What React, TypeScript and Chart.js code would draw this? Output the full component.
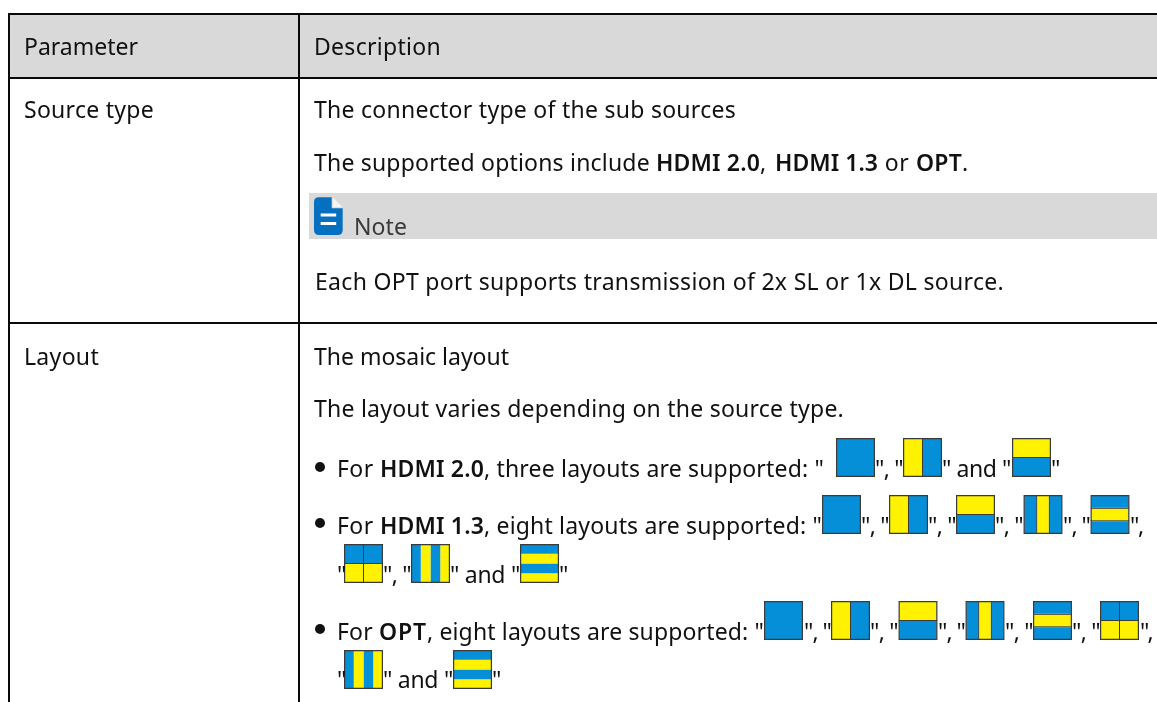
import React, { useEffect, useRef } from "react";
import { Chart, registerables } from "chart.js";

Chart.register(...registerables);

const FONT = '"Noto Sans"';
const BLUE = "#058fd8";
const YELLOW = "#fff200";
const FRAME = "#3b3b3b";
const INK = "#111111";

const parameterCells = ["Parameter", "Source type", "Layout"];
const descriptionCells = [
  "Description",
  "The connector type of the sub sources",
  "The mosaic layout",
  "The layout varies depending on the source type.",
  "Each OPT port supports transmission of 2x SL or 1x DL source.",
];
const noteLabel = "Note";
const optionRuns = ["The supported options include ", "HDMI 2.0", ", ", "HDMI 1.3", " or ", "OPT", "."];
const bullet20 = ["For ", "HDMI 2.0", ', three layouts are supported: "', '", "', '" and "', '"'];
const bullet13 = ["For ", "HDMI 1.3", ', eight layouts are supported: "', '", "', '",', '"', '" and "'];
const bulletOpt = ["For ", "OPT", ', eight layouts are supported: "', '", "', '",', '"', '" and "'];

const layouts20 = ["full", "lr", "tb"];
const layouts13 = ["full", "lr", "tb", "v3", "h3", "quad", "v4", "h4"];
const layoutsOpt = ["full", "lr", "tb", "v3", "h3", "quad", "v4", "h4"];

type Run = { t: string; x0: number; x1: number; b?: boolean };
const textLines: { y: number; runs: Run[] }[] = [
  { y: 55, runs: [{ t: parameterCells[0], x0: 24, x1: 138 }, { t: descriptionCells[0], x0: 314, x1: 441 }] },
  { y: 118.3, runs: [{ t: parameterCells[1], x0: 24, x1: 154 }, { t: descriptionCells[1], x0: 314, x1: 736 }] },
  {
    y: 170.5,
    runs: [
      { t: optionRuns[0], x0: 314, x1: 656 },
      { t: optionRuns[1], x0: 656, x1: 760, b: true },
      { t: optionRuns[2], x0: 760, x1: 775 },
      { t: optionRuns[3], x0: 775, x1: 878, b: true },
      { t: optionRuns[4], x0: 878, x1: 916 },
      { t: optionRuns[5], x0: 916, x1: 962, b: true },
      { t: optionRuns[6], x0: 962, x1: 969 },
    ],
  },
  { y: 290, runs: [{ t: descriptionCells[4], x0: 315, x1: 1004 }] },
  { y: 365, runs: [{ t: parameterCells[2], x0: 24, x1: 99 }, { t: descriptionCells[2], x0: 314, x1: 509 }] },
  { y: 417, runs: [{ t: descriptionCells[3], x0: 314, x1: 844 }] },
  {
    y: 476.7,
    runs: [
      { t: bullet20[0], x0: 337, x1: 380 },
      { t: bullet20[1], x0: 380, x1: 484, b: true },
      { t: bullet20[2], x0: 484, x1: 824 },
      { t: bullet20[3], x0: 875, x1: 903 },
      { t: bullet20[4], x0: 942, x1: 1011 },
      { t: bullet20[5], x0: 1051, x1: 1058 },
    ],
  },
  {
    y: 534,
    runs: [
      { t: bullet13[0], x0: 337, x1: 380 },
      { t: bullet13[1], x0: 380, x1: 484, b: true },
      { t: bullet13[2], x0: 484, x1: 822 },
      { t: bullet13[3], x0: 861, x1: 889 },
      { t: bullet13[3], x0: 928, x1: 956 },
      { t: bullet13[3], x0: 995, x1: 1023 },
      { t: bullet13[3], x0: 1063, x1: 1090 },
      { t: bullet13[4], x0: 1130, x1: 1143 },
    ],
  },
  {
    y: 582.7,
    runs: [
      { t: bullet13[5], x0: 337, x1: 344 },
      { t: bullet13[3], x0: 383, x1: 411 },
      { t: bullet13[6], x0: 450, x1: 520 },
      { t: bullet13[5], x0: 559, x1: 566 },
    ],
  },
  {
    y: 640,
    runs: [
      { t: bulletOpt[0], x0: 337, x1: 379 },
      { t: bulletOpt[1], x0: 379, x1: 427, b: true },
      { t: bulletOpt[2], x0: 427, x1: 764 },
      { t: bulletOpt[3], x0: 804, x1: 831 },
      { t: bulletOpt[3], x0: 870, x1: 898 },
      { t: bulletOpt[3], x0: 938, x1: 965 },
      { t: bulletOpt[3], x0: 1005, x1: 1033 },
      { t: bulletOpt[3], x0: 1072, x1: 1100 },
      { t: bulletOpt[4], x0: 1140, x1: 1152 },
    ],
  },
  {
    y: 688,
    runs: [
      { t: bulletOpt[5], x0: 337, x1: 344 },
      { t: bulletOpt[6], x0: 383, x1: 453 },
      { t: bulletOpt[5], x0: 492, x1: 499 },
    ],
  },
];
const bulletDots = [
  { x: 320, y: 467 },
  { x: 320, y: 523 },
  { x: 320, y: 629 },
];

const placements: { kind: string; x: number; y: number }[] = [
  ...[836, 903, 1012].map((x, i) => ({ kind: layouts20[i], x, y: 438 })),
  ...[822, 889, 956, 1023.5, 1090.5].map((x, i) => ({ kind: layouts13[i], x, y: 495 })),
  ...[344, 411, 520].map((x, i) => ({ kind: layouts13[i + 5], x, y: 544 })),
  ...[764, 831, 898.5, 965.5, 1033, 1100].map((x, i) => ({ kind: layoutsOpt[i], x, y: 601 })),
  ...[344, 453].map((x, i) => ({ kind: layoutsOpt[i + 6], x, y: 650 })),
];

const SIZE = 39;
function panes(kind: string) {
  const b = BLUE;
  const y = YELLOW;
  switch (kind) {
    case "lr":
      return [[0, 0.513, 0, 1, y], [0.487, 1, 0, 1, b]];
    case "tb":
      return [[0, 1, 0, 0.513, y], [0, 1, 0.487, 1, b]];
    case "v3":
      return [[0, 0.35, 0, 1, b], [0.33, 0.67, 0, 1, y], [0.65, 1, 0, 1, b]];
    case "h3":
      return [[0, 1, 0, 0.35, b], [0, 1, 0.33, 0.67, y], [0, 1, 0.65, 1, b]];
    case "quad":
      return [[0, 0.513, 0, 0.513, b], [0.487, 1, 0, 0.513, b], [0, 0.513, 0.487, 1, y], [0.487, 1, 0.487, 1, y]];
    case "v4":
      return [[0, 0.25, 0, 1, b], [0.25, 0.5, 0, 1, y], [0.5, 0.75, 0, 1, b], [0.75, 1, 0, 1, y]];
    case "h4":
      return [[0, 1, 0, 0.25, b], [0, 1, 0.25, 0.5, y], [0, 1, 0.5, 0.75, b], [0, 1, 0.75, 1, y]];
    default:
      return [[0, 1, 0, 1, b]];
  }
}

function bar(cx: number, w: number, y0: number, y1: number, fill: string, border: number) {
  return {
    data: [{ x: cx, y: [y0, y1] }],
    backgroundColor: fill,
    borderColor: FRAME,
    borderWidth: border,
    borderSkipped: false,
    inflateAmount: 0,
    barThickness: w,
    grouped: false,
  };
}

function paneDatasets() {
  const frames: any[] = [];
  const fills: any[] = [];
  for (const p of placements) {
    frames.push({ label: p.kind, ...bar(p.x + SIZE / 2, SIZE, p.y, p.y + SIZE, "rgba(0,0,0,0)", 1.2) });
    const inner = p.kind === "v4" || p.kind === "h4" ? 0 : 1;
    for (const [a, c, d, e, col] of panes(p.kind) as [number, number, number, number, string][]) {
      const w = (c - a) * SIZE;
      fills.push({ label: p.kind, ...bar(p.x + a * SIZE + w / 2, w, p.y + d * SIZE, p.y + e * SIZE, col, inner) });
    }
  }
  // the first dataset is painted last, so frames come first
  return [...frames, ...fills];
}

const tablePlugin = {
  id: "table",
  beforeDatasetsDraw(chart: any) {
    const c = chart.ctx as CanvasRenderingContext2D;
    const X = (v: number) => chart.scales.x.getPixelForValue(v);
    const Y = (v: number) => chart.scales.y.getPixelForValue(v);
    c.save();
    c.fillStyle = "#ffffff";
    c.fillRect(X(0), Y(0), X(1157), Y(702));
    c.fillStyle = "#d9d9d9";
    c.fillRect(X(9), Y(15), X(1157) - X(9), Y(78) - Y(15));
    c.fillRect(X(309), Y(193), X(1157) - X(309), Y(239) - Y(193));
    c.fillStyle = "#0a0a0a";
    [14, 78, 323].forEach((h) => c.fillRect(X(8), Y(h - 1), X(1157) - X(8), 2));
    [9, 299].forEach((v) => c.fillRect(X(v - 1), Y(13), 2, Y(702) - Y(13)));

    const L = 314, T = 197.3, R = 342.7, B = 235, f = 11, r = 5;
    c.fillStyle = "#0670c0";
    c.beginPath();
    c.moveTo(L + r, T);
    c.lineTo(R - f, T);
    c.lineTo(R - f, T + f);
    c.lineTo(R, T + f);
    c.lineTo(R, B - r);
    c.quadraticCurveTo(R, B, R - r, B);
    c.lineTo(L + r, B);
    c.quadraticCurveTo(L, B, L, B - r);
    c.lineTo(L, T + r);
    c.quadraticCurveTo(L, T, L + r, T);
    c.fill();
    c.fillStyle = "#f4f4f4";
    c.beginPath();
    c.moveTo(R - f + 1, T);
    c.lineTo(R, T + f - 1);
    c.lineTo(R - f + 1, T + f - 1);
    c.fill();
    c.fillStyle = "#ffffff";
    c.fillRect(320.7, 213.5, 15.5, 3);
    c.fillRect(320.7, 222, 15.5, 3);
    c.restore();
  },
  afterDatasetsDraw(chart: any) {
    const c = chart.ctx as CanvasRenderingContext2D;
    const X = (v: number) => chart.scales.x.getPixelForValue(v);
    const Y = (v: number) => chart.scales.y.getPixelForValue(v);
    c.save();
    c.textBaseline = "alphabetic";
    c.textAlign = "left";
    const draw = (r: Run, y: number, size: number, color: string) => {
      c.font = `${r.b ? "600" : "400"} ${size}px ${FONT}`;
      (c as any).letterSpacing = "0px";
      const w = c.measureText(r.t).width;
      const spacing = (r.x1 - r.x0 - w) / r.t.length;
      (c as any).letterSpacing = `${spacing}px`;
      c.fillStyle = color;
      c.fillText(r.t, X(r.x0), Y(y));
    };
    textLines.forEach((l) => l.runs.forEach((r) => draw(r, l.y, 23, INK)));
    draw({ t: noteLabel, x0: 354, x1: 407 }, 235, 23, "#3a3a3a");
    c.fillStyle = INK;
    bulletDots.forEach((d) => {
      c.beginPath();
      c.arc(X(d.x), Y(d.y), 5, 0, Math.PI * 2);
      c.fill();
    });
    c.restore();
  },
};

export default function App() {
  const ref = useRef<HTMLCanvasElement>(null);
  useEffect(() => {
    document.body.style.margin = "0";
    const chart = new Chart(ref.current as HTMLCanvasElement, {
      type: "bar",
      data: { datasets: paneDatasets() },
      options: {
        animation: false,
        responsive: false,
        events: [],
        layout: { padding: 0 },
        plugins: { legend: { display: false }, tooltip: { enabled: false }, title: { display: false } },
        scales: {
          x: { type: "linear", min: 0, max: 1157, display: false, offset: false },
          y: { type: "linear", min: 0, max: 702, reverse: true, display: false },
        },
      },
      plugins: [tablePlugin],
    } as any);
    return () => chart.destroy();
  }, []);
  return (
    <div style={{ width: 1157, height: 702, overflow: "hidden", background: "#fff" }}>
      <canvas ref={ref} width={1157} height={702} style={{ display: "block" }} />
    </div>
  );
}
